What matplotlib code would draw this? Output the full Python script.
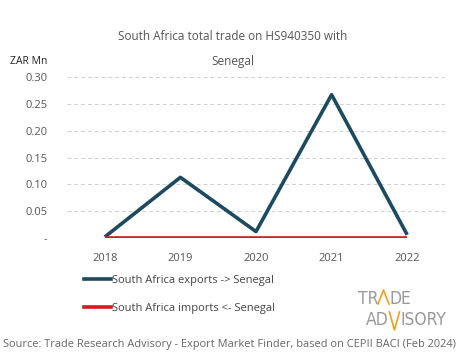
import matplotlib.pyplot as plt
from matplotlib.lines import Line2D

plt.rcParams["font.family"] = ["Open Sans", "DejaVu Sans"]

years = ["2018", "2019", "2020", "2021", "2022"]
exports = [0.002, 0.113, 0.012, 0.267, 0.006]
imports = [0.0, 0.0, 0.0, 0.0, 0.0]
yticks = [0.0, 0.05, 0.10, 0.15, 0.20, 0.25, 0.30]
ylabels = ["-", "0.05", "0.10", "0.15", "0.20", "0.25", "0.30"]

EXP_COL = "#1c4a5e"
IMP_COL = "#d01c1c"
TXT = "#555555"
LOGO = "#9a9a9a"
ORANGE = "#f0a020"

W, H = 465, 359


def fx(px):
    return px / W


def fy(py):
    return 1 - py / H


fig = plt.figure(figsize=(4.65, 3.59), dpi=100)
ax = fig.add_axes([fx(67), fy(238), 378 / W, 161 / H])

x = range(len(years))
ax.plot(x, exports, color=EXP_COL, lw=2.6, solid_capstyle="butt", zorder=3)
ax.plot(x, imports, color=IMP_COL, lw=2.6, solid_capstyle="butt", zorder=3)

ax.set_xlim(-0.5, 4.5)
ax.set_ylim(0, 0.30)
ax.set_xticks(list(x))
ax.set_xticklabels(years)
ax.set_yticks(yticks)
ax.set_yticklabels(ylabels)
ax.tick_params(length=0, labelsize=8, colors=TXT, pad=11)
ax.tick_params(axis="y", pad=14)
ax.grid(axis="y", color="#d0d0d0", lw=0.7, ls=(0, (4, 3)))
ax.axhline(0, color="#d0d0d0", lw=0.8, zorder=1)
for s in ax.spines.values():
    s.set_visible(False)
ax.set_axisbelow(True)

fig.text(0.5, fy(37), "South Africa total trade on HS940350 with",
         ha="center", va="center", fontsize=8.5, color=TXT)
fig.text(0.5, fy(61), "Senegal", ha="center", va="center",
         fontsize=8.5, color=TXT)
fig.text(fx(10), fy(61), "ZAR Mn", ha="left", va="center",
         fontsize=7.5, color="#222222")

handles = [Line2D([], [], color=EXP_COL, lw=2.6),
           Line2D([], [], color=IMP_COL, lw=2.6)]
fig.legend(handles, ["South Africa exports -> Senegal", "South Africa imports <- Senegal"],
           loc="upper left", bbox_to_anchor=(fx(74), fy(265)),
           frameon=False, fontsize=8, labelcolor="#444444",
           handlelength=2.4, handletextpad=0.1, labelspacing=1.55)

# logo
logo_font = dict(fontsize=12.5, color=LOGO, family="DejaVu Sans",
                 fontstretch="condensed", fontweight="light", va="baseline")
fig.text(fx(378), fy(304), "TR", ha="right", **logo_font)
fig.text(fx(389), fy(304), "DE", ha="left", **logo_font)
fig.text(fx(389), fy(325), "AD", ha="right", **logo_font)
fig.text(fx(400), fy(325), "ISORY", ha="left", **logo_font)
fig.add_artist(Line2D([fx(378), fx(383.5), fx(389)], [fy(304), fy(290), fy(304)],
                      color=ORANGE, lw=1.2, transform=fig.transFigure))
fig.add_artist(Line2D([fx(389.5), fx(394.5), fx(399.5)], [fy(312), fy(330), fy(312)],
                      color=ORANGE, lw=1.2, transform=fig.transFigure))

fig.text(fx(3), fy(344),
         "Source: Trade Research Advisory - Export Market Finder, based on CEPII BACI (Feb 2024)",
         ha="left", va="center", fontsize=7.9, color="#666666")

fig.savefig("out.png", dpi=100)
